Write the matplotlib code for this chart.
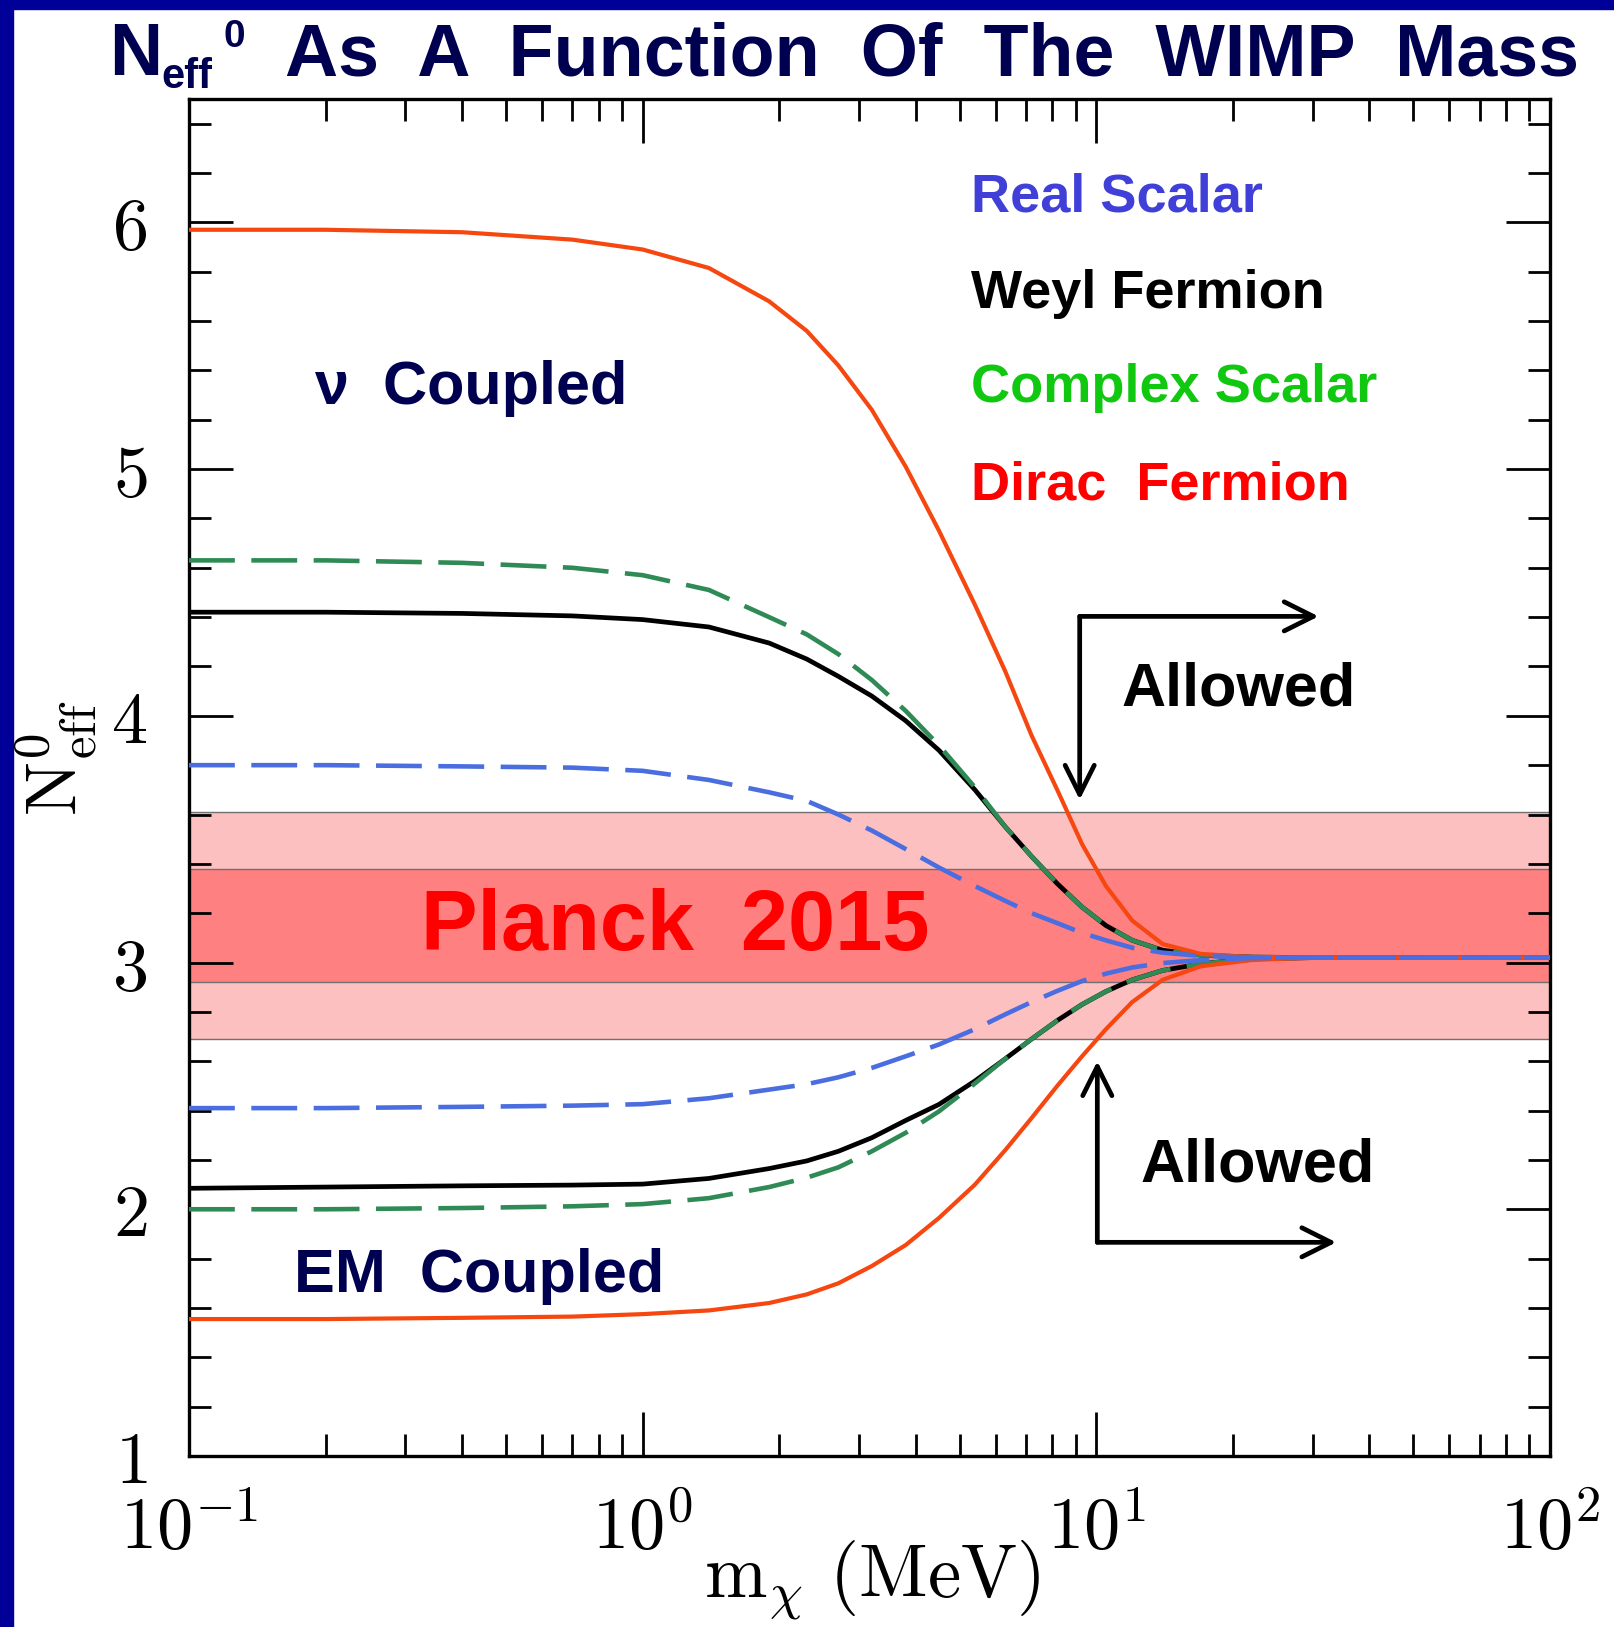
import numpy as np
import matplotlib
matplotlib.use("Agg")
import matplotlib.pyplot as plt
from matplotlib.patches import Rectangle
from matplotlib.ticker import FixedLocator, MultipleLocator, NullFormatter

plt.rcParams["mathtext.fontset"] = "cm"

# WIMP mass grid (MeV)
mass = [0.1, 0.2, 0.4, 0.7, 1.0, 1.4, 1.9, 2.3, 2.7, 3.2, 3.8, 4.5, 5.4, 6.3, 7.2, 8.2,
        9.3, 10.5, 12, 14, 17, 22, 30, 50, 100]

# nu-coupled branch (upper curves)
dirac_nu = [5.97, 5.97, 5.96, 5.93, 5.89, 5.815, 5.68, 5.56, 5.42, 5.24, 5.01, 4.75, 4.45,
            4.18, 3.92, 3.70, 3.48, 3.31, 3.17, 3.075, 3.035, 3.022, 3.02, 3.02, 3.02]
weyl_nu = [4.42, 4.42, 4.415, 4.405, 4.39, 4.36, 4.295, 4.23, 4.16, 4.08, 3.98, 3.86, 3.70,
           3.55, 3.43, 3.32, 3.225, 3.15, 3.09, 3.05, 3.03, 3.022, 3.02, 3.02, 3.02]
complex_nu = [4.63, 4.63, 4.62, 4.60, 4.57, 4.51, 4.40, 4.33, 4.25, 4.145, 4.02, 3.88, 3.71,
              3.55, 3.43, 3.32, 3.225, 3.15, 3.09, 3.05, 3.03, 3.022, 3.02, 3.02, 3.02]
real_nu = [3.80, 3.80, 3.795, 3.79, 3.777, 3.74, 3.69, 3.655, 3.60, 3.535, 3.46, 3.385, 3.31,
           3.25, 3.20, 3.16, 3.12, 3.09, 3.06, 3.04, 3.027, 3.02, 3.02, 3.02, 3.02]

# EM-coupled branch (lower curves)
dirac_em = [1.555, 1.555, 1.56, 1.565, 1.575, 1.59, 1.62, 1.655, 1.70, 1.77, 1.855, 1.965, 2.10,
            2.24, 2.37, 2.50, 2.62, 2.73, 2.84, 2.93, 2.985, 3.01, 3.02, 3.02, 3.02]
weyl_em = [2.085, 2.09, 2.095, 2.098, 2.102, 2.125, 2.165, 2.196, 2.235, 2.29, 2.36, 2.425, 2.52,
           2.61, 2.69, 2.765, 2.83, 2.883, 2.93, 2.968, 2.995, 3.015, 3.02, 3.02, 3.02]
complex_em = [2.00, 2.00, 2.005, 2.012, 2.021, 2.045, 2.09, 2.128, 2.17, 2.235, 2.31, 2.397, 2.51,
              2.61, 2.69, 2.765, 2.83, 2.883, 2.93, 2.968, 2.995, 3.015, 3.02, 3.02, 3.02]
real_em = [2.41, 2.41, 2.415, 2.42, 2.426, 2.45, 2.485, 2.507, 2.535, 2.573, 2.62, 2.668, 2.73,
           2.79, 2.84, 2.885, 2.925, 2.955, 2.98, 2.998, 3.01, 3.018, 3.02, 3.02, 3.02]

# Planck 2015 bands (2 sigma, 1 sigma)
planck_2sig = (2.69, 3.61)
planck_1sig = (2.92, 3.38)

x_ticks = [0.1, 1, 10, 100]
x_tick_labels = [r"$10^{-1}$", r"$10^{0}$", r"$10^{1}$", r"$10^{2}$"]
y_ticks = [1, 2, 3, 4, 5, 6]
y_tick_labels = [r"$%d$" % v for v in y_ticks]

NAVY = "#000050"
ORANGE = "#f5470f"
GREEN = "#2f8a55"
BLUE = "#4a6ee0"
BOLD = dict(family="Liberation Sans", weight="bold")

fig = plt.figure(figsize=(16.15, 16.27), dpi=100)
fig.patch.set_facecolor("white")
# blue frame on top and left edge
fig.patches.append(Rectangle((0, 1 - 9 / 1627), 1, 9 / 1627, transform=fig.transFigure,
                             color="#000099", zorder=0))
fig.patches.append(Rectangle((0, 0), 13 / 1615, 1, transform=fig.transFigure,
                             color="#000099", zorder=0))

ax = fig.add_axes([189 / 1615, 1 - 1456 / 1627, (1550 - 189) / 1615, (1456 - 99) / 1627])
ax.set_xscale("log")
ax.set_xlim(0.1, 100)
ax.set_ylim(1, 6.5)

ax.axhspan(*planck_2sig, facecolor="#fcc0c0", edgecolor="#707070", lw=1, zorder=1)
ax.axhspan(*planck_1sig, facecolor="#ff8080", edgecolor="#707070", lw=1, zorder=1)

dash = (0, (10, 3.6))
for y in (weyl_nu, weyl_em):
    ax.plot(mass, y, color="black", lw=3.4, zorder=3, solid_joinstyle="round")
for y in (complex_nu, complex_em):
    ax.plot(mass, y, color=GREEN, lw=3.3, ls=dash, zorder=4)
for y in (dirac_nu, dirac_em):
    ax.plot(mass, y, color=ORANGE, lw=3.0, zorder=4, solid_joinstyle="round")
for y in (real_nu, real_em):
    ax.plot(mass, y, color=BLUE, lw=3.3, ls=dash, zorder=5)

# labels inside the plot
ax.text(5.29, 6.045, "Real Scalar", color="#4040d8", fontsize=39, **BOLD)
ax.text(5.29, 5.654, "Weyl Fermion", color="black", fontsize=39, **BOLD)
ax.text(5.29, 5.27, "Complex Scalar", color="#10c810", fontsize=39, **BOLD)
ax.text(5.29, 4.877, "Dirac  Fermion", color="#ff0000", fontsize=39, **BOLD)
ax.text(0.19, 5.265, "ν  Coupled", color=NAVY, fontsize=44, **BOLD)
ax.text(0.17, 1.664, "EM  Coupled", color=NAVY, fontsize=44, **BOLD)
ax.text(0.324, 3.05, "Planck  2015", color="#ff0000", fontsize=61, zorder=6, **BOLD)
ax.text(11.35, 4.04, "Allowed", color="black", fontsize=44, **BOLD)
ax.text(12.5, 2.113, "Allowed", color="black", fontsize=44, **BOLD)

arrow = dict(arrowstyle="->,head_length=0.7,head_width=0.35", lw=3.4, color="black",
             mutation_scale=30, shrinkA=0, shrinkB=0)
ax.annotate("", xy=(30.9, 4.403), xytext=(9.19, 4.403), arrowprops=arrow)
ax.annotate("", xy=(9.19, 3.66), xytext=(9.19, 4.403), arrowprops=arrow)
ax.annotate("", xy=(33.8, 1.866), xytext=(10.05, 1.866), arrowprops=arrow)
ax.annotate("", xy=(10.05, 2.60), xytext=(10.05, 1.866), arrowprops=arrow)

ax.xaxis.set_major_locator(FixedLocator(x_ticks))
ax.set_xticklabels(x_tick_labels)
ax.xaxis.set_minor_locator(FixedLocator([m * d for d in (0.1, 1, 10) for m in range(2, 10)]))
ax.xaxis.set_minor_formatter(NullFormatter())
ax.set_yticks(y_ticks)
ax.set_yticklabels(y_tick_labels)
ax.yaxis.set_minor_locator(MultipleLocator(0.2))
ax.tick_params(which="both", direction="in", top=True, right=True, width=2.0, color="black")
ax.tick_params(which="major", length=32, labelsize=52)
ax.tick_params(which="minor", length=16)
ax.tick_params(axis="y", pad=30)
ax.tick_params(axis="x", pad=28)
for s in ax.spines.values():
    s.set_linewidth(2.4)

fig.text(0.540, 0.0178, r"$\mathrm{m}_{\chi}\ \mathrm{(MeV)}$", fontsize=54, ha="center", va="baseline")
fig.text(0.035, 0.534, r"$\mathrm{N}_{\mathrm{eff}}^{0}$", fontsize=52, rotation=90,
         ha="center", va="center")

# title pieces: N, subscript eff, superscript 0, then words
fig.text(109 / 1615, 1 - 75 / 1627, "N", color=NAVY, fontsize=53, **BOLD)
fig.text(161 / 1615, 1 - 88 / 1627, "eff", color=NAVY, fontsize=30, **BOLD)
fig.text(224 / 1615, 1 - 47 / 1627, "0", color=NAVY, fontsize=28, **BOLD)
fig.text(285 / 1615, 1 - 75 / 1627, "As  A  Function  Of  The  WIMP  Mass", color=NAVY,
         fontsize=53, ha="left", **BOLD)

plt.savefig("out.png", dpi=100)
plt.close(fig)
